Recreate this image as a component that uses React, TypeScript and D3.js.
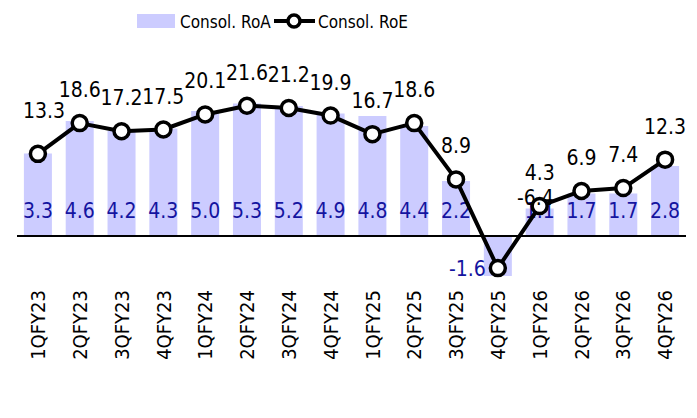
import React from "react";
import * as d3 from "d3";

const categories = ["1QFY23","2QFY23","3QFY23","4QFY23","1QFY24","2QFY24","3QFY24","4QFY24","1QFY25","2QFY25","3QFY25","4QFY25","1QFY26","2QFY26","3QFY26","4QFY26"];
const roa = [3.3,4.6,4.2,4.3,5.0,5.3,5.2,4.9,4.8,4.4,2.2,-1.6,1.1,1.7,1.7,2.8];
const roe = [13.3,18.6,17.2,17.5,20.1,21.6,21.2,19.9,16.7,18.6,8.9,-6.4,4.3,6.9,7.4,12.3];
const roaDomain = [-2, 6];
const roeDomain = [-10, 25];

const W = 697, H = 418;
const plot = { left: 17, right: 686, top: 86, bottom: 286 };
const FONT = "'DejaVu Sans Condensed', 'DejaVu Sans', sans-serif";
const BAR = "#ccccff";
const BLUE = "#1414a0";

export default function App() {
  const x = d3.scaleBand().domain(categories).range([plot.left, plot.right]).paddingInner(0.33).paddingOuter(0.165);
  const yA = d3.scaleLinear().domain(roaDomain).range([plot.bottom, plot.top]);
  const yE = d3.scaleLinear().domain(roeDomain).range([plot.bottom + 3, plot.top]);
  const cx = (c: string) => (x(c) as number) + x.bandwidth() / 2;
  const line = d3.line<number>().x((_, i) => cx(categories[i])).y(d => yE(d));
  const zero = yA(0);
  const step = x.step();

  return (
    <svg width={W} height={H} style={{ position: "absolute", left: 0, top: 0 }} fontFamily={FONT} fontStretch="condensed">
      {/* legend */}
      <rect x={137} y={14} width={38} height={14} fill={BAR} />
      <text x={180} y={28} fontSize={17} fill="#000">Consol. RoA</text>
      <line x1={274} x2={315} y1={21} y2={21} stroke="#000" strokeWidth={4} />
      <circle cx={294} cy={21} r={6} fill="#fff" stroke="#000" strokeWidth={3.5} />
      <text x={318} y={28} fontSize={17} fill="#000">Consol. RoE</text>

      {/* bars */}
      {roa.map((v, i) => (
        <rect key={"b" + i} x={x(categories[i])} width={x.bandwidth()}
          y={Math.min(yA(v), zero)} height={Math.abs(yA(v) - zero)} fill={BAR} />
      ))}

      {/* axis */}
      <line x1={plot.left} x2={plot.right} y1={zero} y2={zero} stroke="#000" strokeWidth={2} />

      {/* bar labels */}
      {roa.map((v, i) => v >= 0 ? (
        <text key={"bl" + i} x={cx(categories[i])} y={zero - 18} textAnchor="middle" fontSize={21} fill={BLUE}>{v.toFixed(1)}</text>
      ) : (
        <text key={"bl" + i} x={(x(categories[i]) as number) + 2} y={yA(v)} textAnchor="end" fontSize={21} fill={BLUE}>{v.toFixed(1)}</text>
      ))}

      {/* line */}
      <path d={line(roe) as string} fill="none" stroke="#000" strokeWidth={4} strokeLinejoin="round" />
      {roe.map((v, i) => (
        <circle key={"m" + i} cx={cx(categories[i])} cy={yE(v)} r={7.5} fill="#fff" stroke="#000" strokeWidth={3.5} />
      ))}
      {roe.map((v, i) => v >= 0 ? (
        <text key={"ll" + i} x={cx(categories[i]) + (i === 0 ? 6 : 0)} y={yE(v) - (i === 0 ? 36 : 26)} textAnchor="middle" fontSize={21} fill="#000">{v.toFixed(1)}</text>
      ) : (
        <text key={"ll" + i} x={cx(categories[i]) + step * 0.9} y={yE(0) - 26} textAnchor="middle" fontSize={21} fill="#000">{v.toFixed(1)}</text>
      ))}

      {/* category labels */}
      {categories.map((c, i) => (
        <text key={"t" + i} transform={`translate(${cx(c)},290) rotate(-90)`} textAnchor="end" dy="0.36em" fontSize={20} fill="#000">{c}</text>
      ))}
    </svg>
  );
}
